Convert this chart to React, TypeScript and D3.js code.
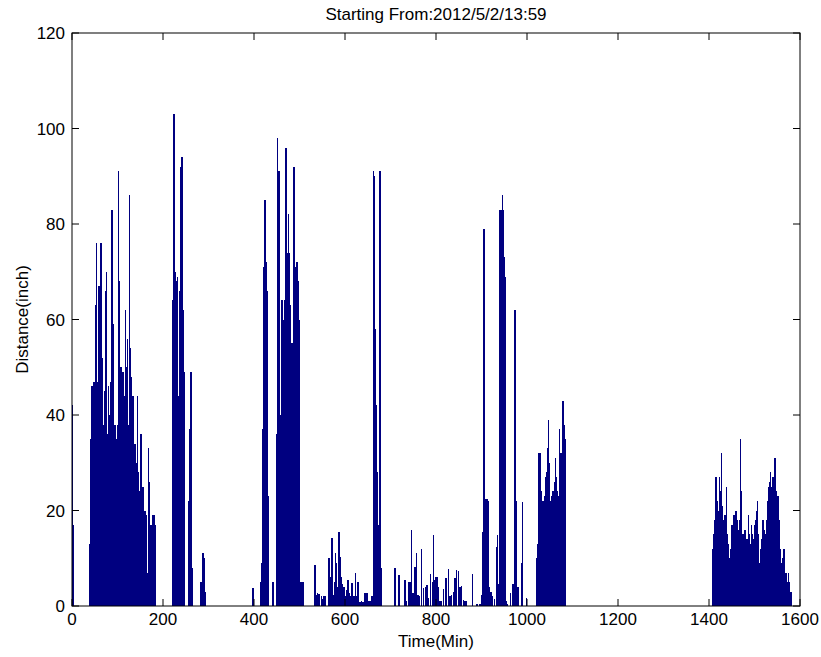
import React from 'react';
import * as d3 from 'd3';

const title = 'Starting From:2012/5/2/13:59';
const xLabel = 'Time(Min)';
const yLabel = 'Distance(inch)';
const xTicks = [0, 200, 400, 600, 800, 1000, 1200, 1400, 1600];
const yTicks = [0, 20, 40, 60, 80, 100, 120];

// dense bursts, one value every 2 minutes from the start minute
const burst1Start = 40;
const burst1 = [13, 35, 46, 40, 47, 38, 63, 76, 47, 67, 67, 45, 76, 52, 38, 36, 45, 66, 70, 36,
  46, 40, 35, 47, 83, 59, 31, 38, 29, 35, 38, 91, 68, 38, 50, 31, 49, 44, 40, 62,
  50, 56, 38, 86, 54, 48, 38, 44, 26, 34, 33, 30, 44, 28, 24, 7, 36, 25, 25, 12,
  20, 20, 19, 7, 33, 26, 14, 17, 14, 19, 19, 17];

const burst2Start = 222;
const burst2 = [64, 103, 63, 70, 68, 69, 44, 66, 92, 64, 94, 62, 49];

const burst3Start = 257;
const burst3 = [22, 37, 49, 27, 8];

const burst4Start = 284;
const burst4 = [5, 4, 11, 10, 3];

const burst5Start = 414;
const burst5 = [5, 9, 5, 37, 71, 85, 72, 66, 66, 23, 0, 0, 0, 0, 5, 0, 0, 0, 36, 98,
  91, 91, 40, 64, 64, 60, 58, 64, 96, 74, 63, 82, 74, 63, 55, 17, 55, 92, 35, 71,
  72, 69, 68, 60, 5];

const burst6Start = 1021;
const burst6 = [10, 13, 32, 31, 32, 24, 22, 22, 21, 23, 27, 28, 33, 39, 30, 22, 14, 23, 24, 23,
  26, 31, 27, 24, 23, 37, 32, 30, 32, 43, 38, 35];

const burst7Start = 1409;
const burst7 = [12, 15, 18, 27, 18, 22, 20, 27, 24, 32, 21, 7, 18, 19, 16, 25, 15, 13, 10, 12,
  4, 17, 15, 19, 17, 20, 18, 14, 16, 18, 35, 24, 14, 15, 14, 16, 14, 12, 14, 19,
  15, 13, 17, 15, 13, 14, 17, 18, 20, 22, 15, 9, 12, 11, 14, 18, 16, 15, 14, 18,
  22, 25, 26, 28, 25, 24, 27, 25, 31, 24, 23, 22, 23, 18, 12, 9, 4, 10, 12, 6,
  7, 5, 4, 7, 5, 3, 3];

// isolated bars: [minute, distance]
const scattered: [number, number][] = [
  [1, 42], [3, 17], [398, 3.7],
  [505, 5], [507, 5], [509, 5], [534, 8.6], [536, 2.3], [540, 2.7], [543, 2.5], [548, 2],
  [551, 1.5], [554, 2], [557, 2], [565, 10], [567, 6], [569, 3], [571, 14.2], [573, 4],
  [575, 2.3], [577, 5], [579, 11], [581, 9], [583, 3], [585, 4], [587, 15.6], [589, 10.3],
  [591, 6], [593, 4.7], [595, 2], [597, 4], [599, 4], [601, 2], [604, 3.4], [607, 5.4],
  [610, 2.7], [612, 2], [615, 4.9], [618, 1.3], [620, 2], [623, 7], [626, 2], [629, 5.1],
  [633, 0.9], [636, 1], [640, 0.9], [644, 2.7], [646, 1.5], [648, 2.7], [651, 1], [655, 1],
  [658, 2], [661, 2], [663, 91], [665, 90], [667, 58], [669, 42], [671, 28], [673, 17],
  [675, 8], [677, 91], [679, 8],
  [710, 7.9], [719, 6.5], [732, 5.4], [735, 1], [741, 5], [744, 5], [746, 15.9], [749, 2.7],
  [754, 8.2], [757, 11], [760, 2.3], [764, 2], [768, 12], [772, 3.7], [778, 4], [780, 4.4],
  [783, 1.6], [788, 6.7], [792, 5], [795, 14.9], [798, 5.4], [800, 6.1], [803, 6.1], [805, 4],
  [809, 1], [812, 1], [817, 3.5], [822, 5.8], [827, 7.7], [831, 2], [834, 2.3], [838, 3],
  [842, 5.8], [845, 7.5], [849, 7.4], [853, 4], [856, 4.2], [860, 1.3], [864, 1], [867, 1],
  [880, 6.7], [890, 0.4], [897, 0.5], [900, 2.3], [902, 15.6], [904, 6.8], [906, 79],
  [908, 22.5], [910, 22], [912, 22.5], [914, 22], [916, 4], [919, 3], [922, 3], [924, 2],
  [929, 1.5], [933, 12.4], [935, 14.9], [937, 4.7], [940, 83], [942, 83], [944, 83],
  [946, 86], [948, 83], [950, 73], [952, 69], [954, 1], [957, 0.5], [964, 2.7], [968, 4.7],
  [970, 4.7], [972, 39], [974, 62], [976, 22], [980, 4], [988, 9], [990, 21.8], [999, 1.6],
];

const W = 821;
const H = 657;
const margin = { left: 72, right: 21, top: 33, bottom: 51 };
const font = '"Liberation Sans", Arial, Helvetica, sans-serif';
const barColor = '#000080';

function expand(start: number, values: number[]) {
  return values.map((v, i) => ({ t: start + 2 * i, v }));
}

export default function App() {
  const x = d3.scaleLinear().domain([0, 1600]).range([margin.left, W - margin.right]);
  const y = d3.scaleLinear().domain([0, 120]).range([H - margin.bottom, margin.top]);

  const bars = [
    ...expand(burst1Start, burst1),
    ...expand(burst2Start, burst2),
    ...expand(burst3Start, burst3),
    ...expand(burst4Start, burst4),
    ...expand(burst5Start, burst5),
    ...expand(burst6Start, burst6),
    ...expand(burst7Start, burst7),
    ...scattered.map(([t, v]) => ({ t, v })),
  ].filter(d => d.v > 0);

  // bars are narrower than a pixel; widen slightly so dense runs fill solid
  const bw = 1.5;
  const [x0, x1] = x.range();
  const [y0, y1] = y.range();
  const tick = 7;

  return (
    <svg width={W} height={H} style={{ position: 'absolute', left: 0, top: 0, background: '#fff' }}
      fontFamily={font}>
      <rect x={0} y={0} width={W} height={H} fill="#fff" />
      <g shapeRendering="crispEdges">
        {bars.map((d, i) => (
          <rect key={i} x={x(d.t) - bw / 2} y={y(d.v)} width={bw} height={y(0) - y(d.v)} fill={barColor} />
        ))}
      </g>
      {/* box */}
      <rect x={x0} y={y1} width={x1 - x0} height={y0 - y1} fill="none" stroke="#000" strokeWidth={1} />
      {xTicks.map(t => (
        <g key={'x' + t}>
          <line x1={x(t)} x2={x(t)} y1={y0} y2={y0 - tick} stroke="#000" />
          <line x1={x(t)} x2={x(t)} y1={y1} y2={y1 + tick} stroke="#000" />
          <text x={x(t)} y={y0 + 19} fontSize={17} textAnchor="middle">{t}</text>
        </g>
      ))}
      {yTicks.map(t => (
        <g key={'y' + t}>
          <line x1={x0} x2={x0 + tick} y1={y(t)} y2={y(t)} stroke="#000" />
          <line x1={x1} x2={x1 - tick} y1={y(t)} y2={y(t)} stroke="#000" />
          <text x={x0 - 7} y={y(t) + 6} fontSize={17} textAnchor="end">{t}</text>
        </g>
      ))}
      <text x={(x0 + x1) / 2} y={20} fontSize={17} textAnchor="middle">{title}</text>
      <text x={(x0 + x1) / 2} y={647} fontSize={17} textAnchor="middle">{xLabel}</text>
      <text transform={`translate(28,${(y0 + y1) / 2}) rotate(-90)`} fontSize={17} textAnchor="middle">{yLabel}</text>
    </svg>
  );
}
